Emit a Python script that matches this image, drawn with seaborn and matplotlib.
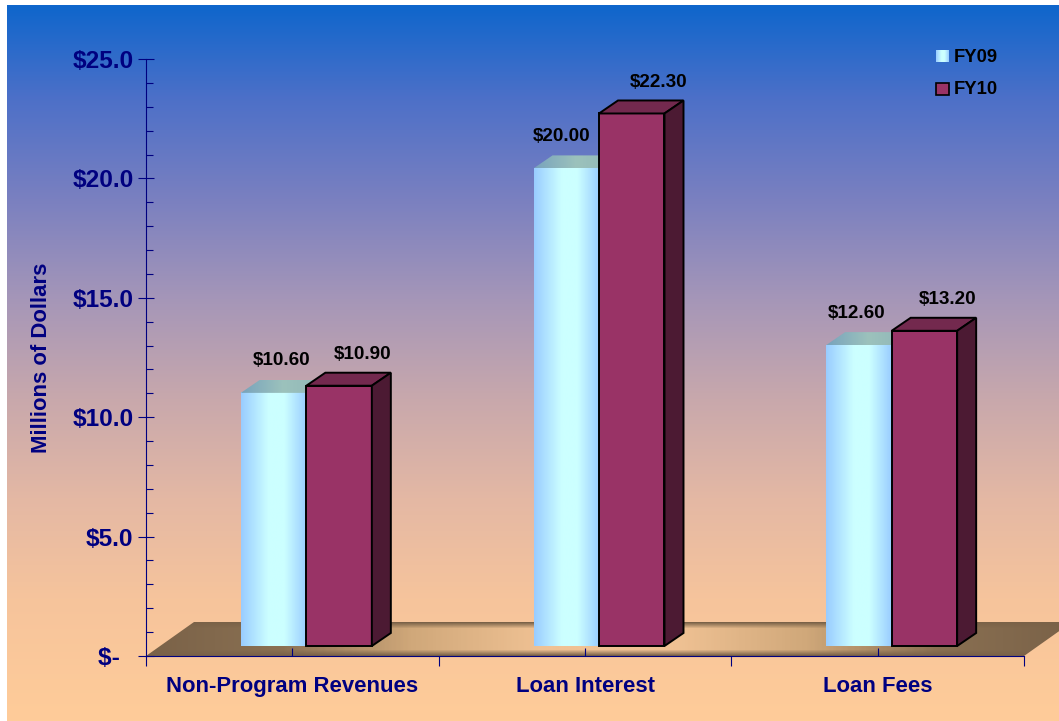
import numpy as np
import pandas as pd
import seaborn as sns
import matplotlib.pyplot as plt
from matplotlib.colors import LinearSegmentedColormap, to_rgb
from matplotlib.patches import Polygon, Rectangle

categories = ['Non-Program Revenues', 'Loan Interest', 'Loan Fees']
years = ['FY09', 'FY10']
fy09 = [10.6, 20.0, 12.6]
fy10 = [10.9, 22.3, 13.2]
y_ticks = [0, 5, 10, 15, 20, 25]
y_tick_labels = ['$-  ', '$5.0', '$10.0', '$15.0', '$20.0', '$25.0']

NAVY = '#000080'
W, H = 1059, 721

sns.set_theme(style='ticks')
plt.rcParams['font.family'] = ['Liberation Sans', 'DejaVu Sans']
plt.rcParams['font.weight'] = 'bold'

df = pd.DataFrame({
    'category': categories * 2,
    'year': [years[0]] * 3 + [years[1]] * 3,
    'value': fy09 + fy10,
})

fig = plt.figure(figsize=(W / 100, H / 100), dpi=100, facecolor='white')


def ramp(stops, n=256):
    return LinearSegmentedColormap.from_list('r', stops)(np.linspace(0, 1, n))[:, :3]


# background and floor, in pixel coordinates
bg = fig.add_axes([0, 0, 1, 1])
bg.set_xlim(0, W)
bg.set_ylim(H, 0)
bg.axis('off')
sky = [(0.0, '#0f66cc'), (0.13, '#4d70c8'), (0.27, '#7a80c0'), (0.41, '#a596b8'),
       (0.55, '#c8a8ac'), (0.69, '#e4b8a4'), (0.83, '#f6c49c'), (1.0, '#ffcc99')]
bg.imshow(ramp(sky)[:, None, :], extent=[7, W, H, 5], aspect='auto', zorder=1)

floor_h = ramp(['#7a6248', '#8a7052', '#d0a87a', '#f0c294', '#f0c294', '#d0a87a', '#8a7052', '#7a6248'], 400)
edge = np.clip(np.minimum(np.arange(34), np.arange(34)[::-1]) / 6.0, 0, 1)[:, None, None]
dark = np.array(to_rgb('#7a6248'))
floor = floor_h[None, :, :] * edge + dark * (1 - edge)
floor_im = bg.imshow(floor, extent=[146, 1072, 656, 622], aspect='auto', zorder=2)
floor_poly = Polygon([(146, 656), (194, 622), (1072, 622), (1024, 656)], closed=True,
                     fill=False, edgecolor='none', transform=bg.transData)
bg.add_patch(floor_poly)
floor_im.set_clip_path(floor_poly)
bg.set_xlim(0, W)
bg.set_ylim(H, 0)

# main axes
ax = fig.add_axes([146 / W, 1 - 656 / H, (1024 - 146) / W, (656 - 59) / H])
ax.patch.set_alpha(0)

sns.barplot(data=df, x='category', y='value', hue='year', order=categories, hue_order=years,
            palette=['#ccffff', '#993366'], width=131 / 292.67, gap=0, saturation=1,
            legend=False, ax=ax)

ax.set_xlim(-0.5, 2.5)
ax.set_ylim(0, 25)
px_x = 292.67
px_y = 597 / 25
dx, dy = 14 / px_x, 10 / px_y
depth_x, depth_y = 19 / px_x, 13 / px_y

blue_stops = [(0, '#99ccff'), (0.42, '#ccffff'), (0.66, '#ccffff'), (1, '#99ccff')]
face = ramp(blue_stops)[None, :, :]
top09 = ramp(['#78a3bc', '#9cc2bc', '#8fb5b8'])[None, :, :]

for p in ax.containers[0]:
    x0, w, h = p.get_x() + dx, p.get_width(), p.get_height()
    p.set_x(x0)
    p.set_y(dy)
    p.set_visible(False)
    ax.imshow(face, extent=[x0, x0 + w, dy, dy + h], aspect='auto', zorder=2)
    top = Polygon([(x0, dy + h), (x0 + depth_x, dy + h + depth_y),
                   (x0 + w + depth_x, dy + h + depth_y), (x0 + w, dy + h)],
                  closed=True, fill=False, edgecolor='none')
    ax.add_patch(top)
    im = ax.imshow(top09, extent=[x0, x0 + w + depth_x, dy + h, dy + h + depth_y],
                   aspect='auto', zorder=2)
    im.set_clip_path(top)

for p in ax.containers[1]:
    x0, w, h = p.get_x() + dx, p.get_width(), p.get_height()
    p.set_x(x0)
    p.set_y(dy)
    p.set_edgecolor('black')
    p.set_linewidth(1.4)
    p.set_zorder(4)
    ax.add_patch(Polygon([(x0, dy + h), (x0 + depth_x, dy + h + depth_y),
                          (x0 + w + depth_x, dy + h + depth_y), (x0 + w, dy + h)],
                         closed=True, facecolor='#73294e', edgecolor='black', lw=1.4, zorder=4))
    ax.add_patch(Polygon([(x0 + w, dy), (x0 + w + depth_x, dy + depth_y),
                          (x0 + w + depth_x, dy + h + depth_y), (x0 + w, dy + h)],
                         closed=True, facecolor='#4c1a33', edgecolor='black', lw=1.4, zorder=4))

ax.set_xlim(-0.5, 2.5)
ax.set_ylim(0, 25)

# value labels, offsets in pixels from the front face centre
label_dx_09 = [8.5, -5, -2]
label_dx_10 = [24, 27, 23]
for cont, vals, offs, rise in [(ax.containers[0], fy09, label_dx_09, 32),
                               (ax.containers[1], fy10, label_dx_10, 31)]:
    for p, v, o in zip(cont, vals, offs):
        ax.text(p.get_x() + p.get_width() / 2 + o / px_x, dy + v + rise / px_y, f'${v:.2f}',
                ha='center', va='center', fontsize=13.6, fontweight='bold', color='black', zorder=5)

# axes styling
sns.despine(ax=ax)
for s in ['left', 'bottom']:
    ax.spines[s].set_color(NAVY)
    ax.spines[s].set_linewidth(0.8)

ax.set_yticks(y_ticks, y_tick_labels)
ax.set_yticks(np.arange(0, 26), minor=True)
ax.tick_params(axis='y', which='major', direction='inout', length=12, width=0.8, color=NAVY,
               labelcolor=NAVY, labelsize=17.6, pad=3)
ax.tick_params(axis='y', which='minor', direction='in', length=5, width=0.8, color=NAVY)

ax.set_xticks(range(3), categories)
ax.set_xticks([-0.5, 0.5, 1.5, 2.5], minor=True)
ax.tick_params(axis='x', which='major', direction='in', length=6, width=0.8, color=NAVY,
               labelcolor=NAVY, labelsize=15.9, pad=14.5)
ax.tick_params(axis='x', which='minor', direction='out', length=7.2, width=0.8, color=NAVY)
for t in ax.get_xticklabels() + ax.get_yticklabels():
    t.set_fontweight('bold')

ax.set_xlabel('')
ax.set_ylabel('')
bg.text(42, 358, 'Millions of Dollars', rotation=90, ha='center', va='center',
        fontsize=15.9, fontweight='bold', color=NAVY, zorder=5)

# legend
bg.imshow(ramp(blue_stops)[None, :, :], extent=[936, 949, 62, 50], aspect='auto', zorder=3)
bg.add_patch(Rectangle((936, 83), 13, 12, facecolor='#993366', edgecolor='black', lw=1.2, zorder=3))
bg.set_xlim(0, W)
bg.set_ylim(H, 0)
for name, y in zip(years, [58, 90]):
    bg.text(954, y, name, ha='left', va='center', fontsize=13.3, fontweight='bold',
            color='black', zorder=5)

fig.savefig('out.png', dpi=100)
plt.close(fig)
